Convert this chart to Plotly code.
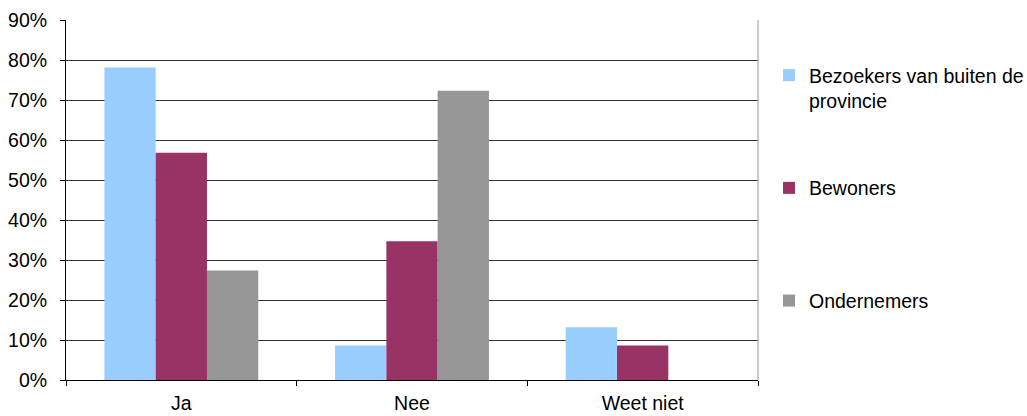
import plotly.graph_objects as go

categories = ["Ja", "Nee", "Weet niet"]
series_names = ["Bezoekers van buiten de<br>provincie", "Bewoners<br> ", "Ondernemers<br> "]
bezoekers = [0.781, 0.086, 0.132]
bewoners = [0.568, 0.347, 0.086]
ondernemers = [0.274, 0.723, 0.0]
colors = ["#99CCFF", "#993366", "#969696"]
y_ticks = [0, 0.1, 0.2, 0.3, 0.4, 0.5, 0.6, 0.7, 0.8, 0.9]

fig = go.Figure()
for i, (name, vals) in enumerate(zip(series_names, [bezoekers, bewoners, ondernemers])):
    fig.add_trace(go.Bar(x=categories, y=vals, name=name, marker=dict(color=colors[i], line=dict(width=0)),
                         legendgroup=str(i)))

font = dict(family="Liberation Sans, Arial, sans-serif", size=19.5, color="black")
fig.update_layout(
    width=1027, height=416,
    margin=dict(l=66, r=269, t=20, b=36, autoexpand=False),
    paper_bgcolor="white", plot_bgcolor="white",
    font=font,
    barmode="group", bargap=0.333, bargroupgap=0,
    showlegend=True,
    legend=dict(x=1.0159, y=0.90, xanchor="left", yanchor="top", traceorder="grouped",
                tracegroupgap=59, valign="top", itemwidth=30, font=font),
    xaxis=dict(type="category", tickson="boundaries", ticks="outside", ticklen=5, tickcolor="black",
               showline=True, linecolor="black", linewidth=1, showgrid=False, mirror=False,
               automargin=False, ticklabelstandoff=6),
    yaxis=dict(range=[0, 0.9], tickvals=y_ticks, tickformat=".0%", ticks="outside", ticklen=5,
               tickcolor="black", showline=True, linecolor="black", linewidth=1,
               showgrid=True, gridcolor="#333333", gridwidth=1, zeroline=False,
               automargin=False, ticklabelstandoff=9),
)
fig.add_shape(type="line", xref="paper", yref="paper", x0=1, x1=1, y0=0, y1=1,
              line=dict(color="#999999", width=1))
fig.write_html("out.html", config={"displayModeBar": False},
               post_script="document.body.style.margin='0';document.body.style.overflow='hidden';")
